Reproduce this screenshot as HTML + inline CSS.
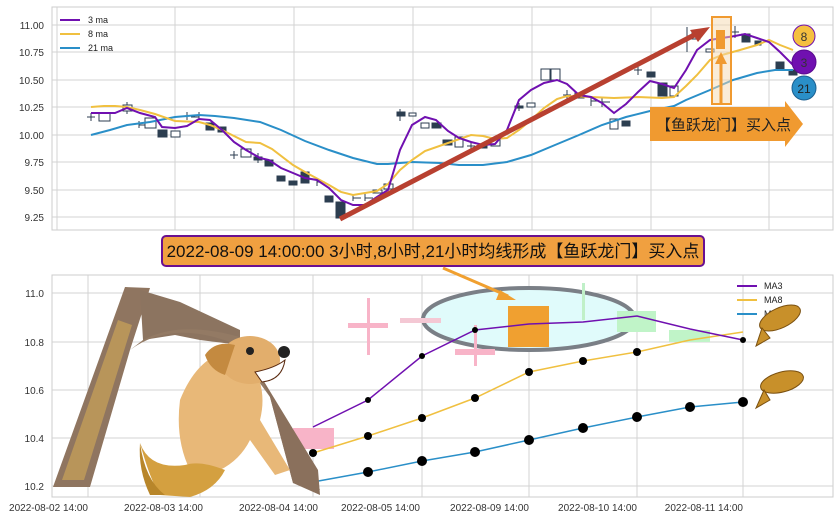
<!DOCTYPE html><html><head><meta charset="utf-8"><style>body{margin:0;background:#fff}svg{display:block;font-family:"Liberation Sans","Noto Sans CJK SC",sans-serif}</style></head><body>
<svg width="839" height="520" viewBox="0 0 839 520">
<rect width="839" height="520" fill="#fff"/>
<!-- TOP CHART -->
<g stroke="#d3d3d3" stroke-width="1">
<rect x="52" y="7" width="781" height="223" fill="#fff" stroke="#ccc"/>
<line x1="52" y1="25" x2="833" y2="25"/><line x1="52" y1="52" x2="833" y2="52"/><line x1="52" y1="80" x2="833" y2="80"/><line x1="52" y1="107" x2="833" y2="107"/><line x1="52" y1="135" x2="833" y2="135"/><line x1="52" y1="162" x2="833" y2="162"/><line x1="52" y1="190" x2="833" y2="190"/><line x1="52" y1="217" x2="833" y2="217"/>
<line x1="57" y1="7" x2="57" y2="230"/><line x1="175" y1="7" x2="175" y2="230"/><line x1="294" y1="7" x2="294" y2="230"/><line x1="413" y1="7" x2="413" y2="230"/><line x1="532" y1="7" x2="532" y2="230"/><line x1="651" y1="7" x2="651" y2="230"/><line x1="769" y1="7" x2="769" y2="230"/>
</g>
<g font-size="10" fill="#333" text-anchor="end">
<text x="44" y="29">11.00</text><text x="44" y="56">10.75</text><text x="44" y="84">10.50</text><text x="44" y="111">10.25</text><text x="44" y="139">10.00</text><text x="44" y="166">9.75</text><text x="44" y="194">9.50</text><text x="44" y="221">9.25</text>
</g>
<g stroke="#2c3e50" stroke-width="1" fill="#fff">
<path d="M91 113v8M87 117h8M127 102v12M139 121v7M187 112v8M199 112v8M234 151v8M230 155h8M258 153v10M317 178v8M353 195v6M365 193v8M400 109v12M519 103v8M567 90v10M563 95h8M591 96v10M602 97v10M638 65v10M634 70h8M687 27v25M735 26v12M731 32h8M139 125h8M187 116h8M199 117h-8M317 182h8M353 198h8M365 198h8M471 142v8M467 146h8M591 101h8M602 102h8"/>
<rect x="99" y="113" width="11" height="8"/><rect x="123" y="105" width="9" height="6"/><rect x="145" y="118" width="11" height="10"/><rect x="171" y="131" width="9" height="6"/><rect x="241" y="149" width="10" height="8"/><rect x="373" y="190" width="9" height="3"/><rect x="384" y="184" width="9" height="5"/><rect x="409" y="113" width="7" height="3"/><rect x="421" y="123" width="8" height="5"/><rect x="455" y="137" width="8" height="10"/><rect x="491" y="138" width="9" height="8"/><rect x="527" y="103" width="8" height="4"/><rect x="541" y="69" width="9" height="11"/><rect x="551" y="69" width="9" height="11"/><rect x="575" y="93" width="9" height="5"/><rect x="610" y="119" width="8" height="10"/><rect x="670" y="86" width="8" height="10"/><rect x="692" y="33" width="8" height="6"/><rect x="706" y="49" width="8" height="3"/>
<g fill="#2c3e50"><rect x="158" y="130" width="9" height="7"/><rect x="206" y="123" width="8" height="7"/><rect x="218" y="127" width="8" height="5"/><rect x="254" y="157" width="8" height="3"/><rect x="265" y="160" width="8" height="6"/><rect x="277" y="176" width="8" height="5"/><rect x="289" y="181" width="8" height="4"/><rect x="301" y="172" width="8" height="11"/><rect x="325" y="196" width="8" height="6"/><rect x="336" y="202" width="9" height="16"/><rect x="397" y="112" width="8" height="4"/><rect x="432" y="123" width="9" height="5"/><rect x="443" y="140" width="9" height="5"/><rect x="479" y="145" width="8" height="3"/><rect x="515" y="106" width="8" height="2"/><rect x="622" y="121" width="8" height="5"/><rect x="647" y="72" width="8" height="5"/><rect x="658" y="83" width="9" height="13"/><rect x="742" y="34" width="8" height="8"/><rect x="755" y="41" width="6" height="4"/><rect x="776" y="62" width="8" height="8"/><rect x="789" y="70" width="8" height="5"/></g>
</g>
<g fill="none" stroke-width="2">
<polyline stroke="#2a8fc8" points="91,135 110,130 127,125 150,122 175,117 199,115 215,116 234,118 260,122 281,130 305,141 329,150 353,158 377,164 388,164 412,162 440,163 459,165 483,165 507,162 531,155 555,145 579,135 602,125 626,117 650,111 674,106 686,100 710,90 733,80 757,73 775,70 793,70"/>
<polyline stroke="#f0c040" points="91,107 104,106 115,106 127,107 140,110 155,114 175,121 199,122 210,125 222,130 246,142 260,143 272,149 293,165 305,172 329,185 341,192 353,195 377,191 388,184 400,170 412,160 425,151 448,143 471,135 483,136 495,139 507,138 519,130 531,120 544,108 557,99 567,96 591,97 614,98 638,97 662,98 674,97 686,86 697,75 710,60 722,55 740,50 757,45 769,40 780,45 793,50"/>
<polyline stroke="#7010b0" points="91,113 115,113 127,108 140,113 155,117 162,127 175,128 187,126 199,119 210,120 222,130 234,142 246,150 260,158 269,160 281,168 293,173 305,178 317,180 329,188 341,200 353,205 365,205 377,197 388,190 400,150 412,125 425,117 436,120 448,131 459,138 471,142 483,145 495,144 507,130 519,100 531,90 544,83 557,80 567,84 579,95 591,97 602,103 614,113 626,104 638,92 650,81 662,84 674,88 686,70 697,50 710,40 722,38 735,36 745,34 757,38 769,42 780,52 793,65"/>
</g>
<g font-size="9" fill="#222"><line x1="60" y1="20" x2="80" y2="20" stroke="#7010b0" stroke-width="2"/><text x="88" y="23">3 ma</text><line x1="60" y1="34" x2="80" y2="34" stroke="#f0c040" stroke-width="2"/><text x="88" y="37">8 ma</text><line x1="60" y1="48" x2="80" y2="48" stroke="#2a8fc8" stroke-width="2"/><text x="88" y="51">21 ma</text></g>
<line x1="340" y1="219" x2="700" y2="32" stroke="#b84030" stroke-width="5"/>
<polygon points="710,27 690,30 698,42" fill="#b84030"/>
<rect x="712" y="17" width="19" height="87" fill="#f5d9b0" fill-opacity="0.5" stroke="#f09a30" stroke-width="2"/>
<rect x="716" y="30" width="9" height="19" fill="#f09a30"/>
<line x1="721" y1="104" x2="721" y2="60" stroke="#f09a30" stroke-width="3"/><polygon points="721,52 715,64 727,64" fill="#f09a30"/>
<polygon points="650,107 785,107 785,101 803,124 785,147 785,141 650,141" fill="#f09a30"/>
<text x="656" y="130" font-size="15" fill="#222">【鱼跃龙门】买入点</text>
<circle cx="804" cy="36" r="11" fill="#f5c040" stroke="#7010b0"/><text x="804" y="41" font-size="12" text-anchor="middle" fill="#333">8</text>
<circle cx="804" cy="62" r="12" fill="#7010b0" stroke="#5a0a90"/><text x="804" y="67" font-size="12" text-anchor="middle" fill="#333">3</text>
<circle cx="804" cy="88" r="12" fill="#2a8fc8" stroke="#1a5f90"/><text x="804" y="93" font-size="12" text-anchor="middle" fill="#222">21</text>
<rect x="162" y="236" width="542" height="30" rx="4" fill="#f0a040" stroke="#6a1090" stroke-width="2"/>
<text x="433" y="257" font-size="17" text-anchor="middle" fill="#111">2022-08-09 14:00:00 3小时,8小时,21小时均线形成【鱼跃龙门】买入点</text>
<!-- BOTTOM CHART -->
<g stroke="#d3d3d3" stroke-width="1">
<rect x="52" y="275" width="781" height="222" fill="#fff" stroke="#ccc"/>
<line x1="52" y1="293" x2="833" y2="293"/><line x1="52" y1="342" x2="833" y2="342"/><line x1="52" y1="390" x2="833" y2="390"/><line x1="52" y1="438" x2="833" y2="438"/><line x1="52" y1="486" x2="833" y2="486"/>
<line x1="88" y1="275" x2="88" y2="497"/><line x1="200" y1="275" x2="200" y2="497"/><line x1="313" y1="275" x2="313" y2="497"/><line x1="422" y1="275" x2="422" y2="497"/><line x1="529" y1="275" x2="529" y2="497"/><line x1="637" y1="275" x2="637" y2="497"/><line x1="743" y1="275" x2="743" y2="497"/>
</g>
<g font-size="10" fill="#333" text-anchor="end">
<text x="44" y="297">11.0</text><text x="44" y="346">10.8</text><text x="44" y="394">10.6</text><text x="44" y="442">10.4</text><text x="44" y="490">10.2</text>
<text x="88" y="511">2022-08-02 14:00</text><text x="203" y="511">2022-08-03 14:00</text><text x="318" y="511">2022-08-04 14:00</text><text x="420" y="511">2022-08-05 14:00</text><text x="529" y="511">2022-08-09 14:00</text><text x="637" y="511">2022-08-10 14:00</text><text x="743" y="511">2022-08-11 14:00</text>
</g>
<ellipse cx="529" cy="319" rx="106" ry="31" fill="#e0fbfb" stroke="#7a7f86" stroke-width="4"/>
<g>
<rect x="293" y="428" width="41" height="21" fill="#f8b4c8"/>
<rect x="348" y="323" width="40" height="5" fill="#f8b4c8"/><rect x="367" y="298" width="3" height="57" fill="#f8b4c8"/>
<rect x="400" y="318" width="41" height="5" fill="#f4c8d4"/>
<rect x="455" y="349" width="40" height="6" fill="#f8b4c8"/><rect x="474" y="325" width="3" height="41" fill="#f8b4c8"/>
<rect x="508" y="306" width="41" height="41" fill="#f0a030"/>
<rect x="582" y="283" width="3" height="37" fill="#c0f0c8"/>
<rect x="617" y="311" width="39" height="21" fill="#c0f4c8"/>
<rect x="669" y="330" width="41" height="12" fill="#c0f4c8"/>
</g>
<line x1="443" y1="268" x2="508" y2="296" stroke="#f0a030" stroke-width="3"/><polygon points="516,300 500,290 496,300" fill="#f0a030"/>
<g fill="none" stroke-width="1.5">
<polyline stroke="#2a8fc8" points="313,482 368,472 422,461 475,452 529,440 583,428 637,417 690,407 743,402"/>
<polyline stroke="#f0c040" points="313,453 368,436 422,418 475,398 529,372 583,361 637,352 690,340 743,332"/>
<polyline stroke="#7010b0" points="313,427 368,400 422,356 475,330 529,324 583,322 637,316 690,329 743,340"/>
</g>
<g fill="#000">
<circle cx="313" cy="482" r="5"/><circle cx="368" cy="472" r="5"/><circle cx="422" cy="461" r="5"/><circle cx="475" cy="452" r="5"/><circle cx="529" cy="440" r="5"/><circle cx="583" cy="428" r="5"/><circle cx="637" cy="417" r="5"/><circle cx="690" cy="407" r="5"/><circle cx="743" cy="402" r="5"/>
<circle cx="313" cy="453" r="4"/><circle cx="368" cy="436" r="4"/><circle cx="422" cy="418" r="4"/><circle cx="475" cy="398" r="4"/><circle cx="529" cy="372" r="4"/><circle cx="583" cy="361" r="4"/><circle cx="637" cy="352" r="4"/>
<circle cx="368" cy="400" r="3"/><circle cx="422" cy="356" r="3"/><circle cx="475" cy="330" r="3"/><circle cx="743" cy="340" r="3"/>
</g>
<g font-size="9" fill="#222"><line x1="737" y1="286" x2="757" y2="286" stroke="#7010b0" stroke-width="2"/><text x="764" y="289">MA3</text><line x1="737" y1="300" x2="757" y2="300" stroke="#f0c040" stroke-width="2"/><text x="764" y="303">MA8</text><line x1="737" y1="314" x2="757" y2="314" stroke="#2a8fc8" stroke-width="2"/><text x="764" y="317">MA21</text></g>
<g fill="#c8902a" stroke="#7a5010" stroke-width="1">
<ellipse cx="780" cy="318" rx="22" ry="10" transform="rotate(-25 780 318)"/>
<path d="M762 328 l-6 18 l14 -8z"/>
<ellipse cx="782" cy="382" rx="22" ry="10" transform="rotate(-15 782 382)"/>
<path d="M764 390 l-8 18 l14 -8z"/>
</g>
<!-- arch -->
<g>
<polygon points="53,487 125,287 150,288 130,350 90,487" fill="#8f7560"/>
<polygon points="62,480 118,320 132,325 84,480" fill="#b8955a"/>
<polygon points="140,290 180,302 240,330 240,345 200,340 175,335 143,340" fill="#8c7460"/>
<path d="M130 350 Q170 320 230 342 L270 397 L293 483 L320 490 L257 370 L240 337 Q180 320 143 340Z" fill="#937a64"/>
<polygon points="257,370 270,397 293,483 320,495 318,470" fill="#8a705c"/>
</g>
<!-- dog mermaid -->
<g>
<path d="M180 400 Q200 350 240 350 Q270 380 260 420 L290 470 L275 475 L250 440 Q240 460 220 470 L190 470 Q175 440 180 400Z" fill="#e8b878"/>
<ellipse cx="250" cy="360" rx="30" ry="24" fill="#e2ae6c"/>
<path d="M205 355 Q215 340 235 345 L225 375 Q210 370 205 355Z" fill="#c48a40"/>
<path d="M255 372 Q275 368 285 360 Q282 380 262 382Z" fill="#fff" stroke="#5a2a10"/>
<circle cx="284" cy="352" r="6" fill="#222"/><circle cx="250" cy="351" r="4" fill="#222"/>
<path d="M185 465 Q200 460 225 470 Q215 490 190 497 L160 495 Q150 480 140 443 Q150 470 185 465Z" fill="#d4a040"/>
<path d="M140 443 Q145 480 165 495 L150 495 Q138 470 140 443Z" fill="#b8862a"/>
</g>
</svg>
</body></html>
